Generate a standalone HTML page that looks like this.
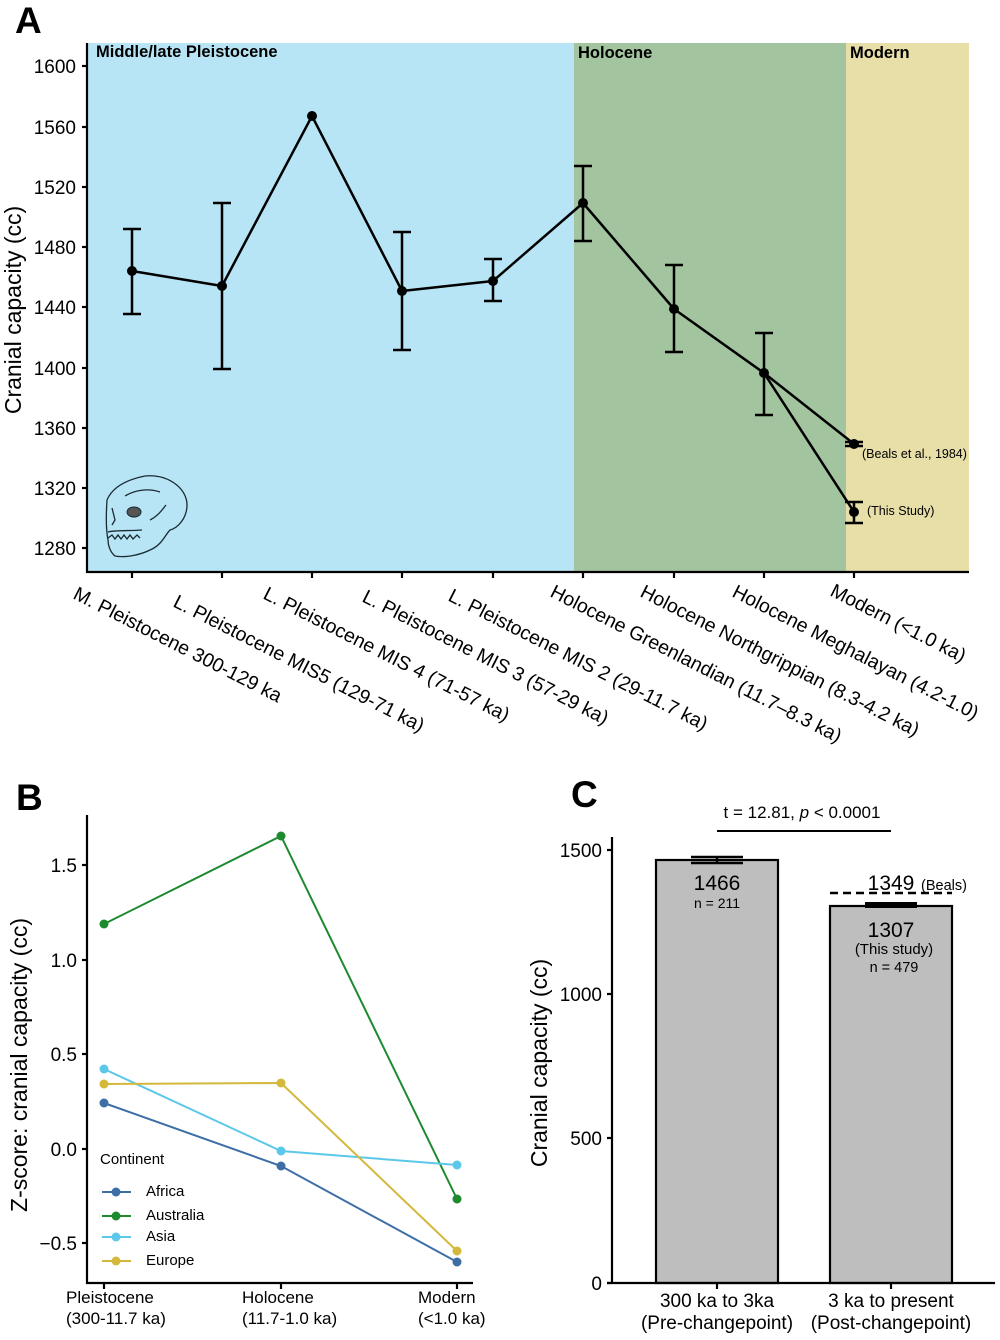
<!DOCTYPE html>
<html><head><meta charset="utf-8"><style>
html,body{margin:0;padding:0;background:#fff;}
svg{display:block;font-family:"Liberation Sans",Arial,sans-serif;}
</style></head><body>
<svg width="1000" height="1340" viewBox="0 0 1000 1340" xmlns="http://www.w3.org/2000/svg">
<!-- Panel A -->
<text x="15" y="33" font-size="37" font-weight="bold">A</text>
<rect x="87" y="43" width="487" height="529" fill="#b8e5f5"/>
<rect x="574" y="43" width="272" height="529" fill="#a2c49e"/>
<rect x="846" y="43" width="123" height="529" fill="#e7dea8"/>
<text x="96" y="57" font-size="16.5" font-weight="bold">Middle/late Pleistocene</text>
<text x="578" y="58" font-size="16.5" font-weight="bold">Holocene</text>
<text x="850" y="58" font-size="16.5" font-weight="bold">Modern</text>
<!-- skull -->
<g fill="none" stroke="#1a2a33" stroke-width="1.3">
<path d="M107 500 C112 488,125 480,145 476 C168 474,187 488,187 505 C187 518,178 528,170 530 C165 535,162 545,150 550 C140 555,125 558,115 556 C110 552,108 545,108 540 C106 530,106 515,107 500 Z"/>
<path d="M108 538 L112 535 L115 539 L118 535 L121 539 L124 535 L127 539 L130 535 L133 539 L137 535 L140 538"/>
<path d="M108 532 C115 530,130 531,142 530"/>
<path d="M150 520 C158 516,162 510,166 505"/>
<path d="M125 496 C135 490,148 488,160 492"/>
<path d="M112 508 L115 520 L112 525"/>
</g>
<ellipse cx="134" cy="512" rx="7" ry="5" fill="#555" stroke="#1a2a33" stroke-width="1"/>
<!-- axes A -->
<g stroke="#000" stroke-width="2.2" fill="none">
<line x1="87" y1="43" x2="87" y2="573"/>
<line x1="86" y1="572" x2="969" y2="572"/>
<line x1="82" y1="66" x2="87" y2="66"/>
<line x1="82" y1="127" x2="87" y2="127"/>
<line x1="82" y1="187" x2="87" y2="187"/>
<line x1="82" y1="247" x2="87" y2="247"/>
<line x1="82" y1="307" x2="87" y2="307"/>
<line x1="82" y1="368" x2="87" y2="368"/>
<line x1="82" y1="428" x2="87" y2="428"/>
<line x1="82" y1="488" x2="87" y2="488"/>
<line x1="82" y1="548" x2="87" y2="548"/>
<line x1="132" y1="572" x2="132" y2="578"/>
<line x1="222" y1="572" x2="222" y2="578"/>
<line x1="312" y1="572" x2="312" y2="578"/>
<line x1="402" y1="572" x2="402" y2="578"/>
<line x1="493" y1="572" x2="493" y2="578"/>
<line x1="583" y1="572" x2="583" y2="578"/>
<line x1="674" y1="572" x2="674" y2="578"/>
<line x1="764" y1="572" x2="764" y2="578"/>
<line x1="854" y1="572" x2="854" y2="578"/>
</g>
<g font-size="19" text-anchor="end" fill="#000">
<text x="76" y="73">1600</text>
<text x="76" y="134">1560</text>
<text x="76" y="194">1520</text>
<text x="76" y="254">1480</text>
<text x="76" y="314">1440</text>
<text x="76" y="375">1400</text>
<text x="76" y="435">1360</text>
<text x="76" y="495">1320</text>
<text x="76" y="555">1280</text>
</g>
<text transform="translate(21,310) rotate(-90)" font-size="23" text-anchor="middle">Cranial capacity (cc)</text>
<!-- error bars -->
<g stroke="#000" stroke-width="2.5" fill="none">
<path d="M132 229V314M123 229H141M123 314H141"/>
<path d="M222 203V369M213 203H231M213 369H231"/>
<path d="M402 232V350M393 232H411M393 350H411"/>
<path d="M493 259V301M484 259H502M484 301H502"/>
<path d="M583 166V241M574 166H592M574 241H592"/>
<path d="M674 265V352M665 265H683M665 352H683"/>
<path d="M764 333V415M755 333H773M755 415H773"/>
<path d="M845 442H863M845 446H863"/>
<path d="M854 502V523M845 502H863M845 523H863"/>
</g>
<polyline points="132,271 222,286 312,116 402,291 493,281 583,203 674,309 764,373 854,444" fill="none" stroke="#000" stroke-width="2.5" stroke-linejoin="round"/>
<line x1="764" y1="373" x2="854" y2="512" stroke="#000" stroke-width="2.5"/>
<g fill="#000">
<circle cx="132" cy="271" r="5"/><circle cx="222" cy="286" r="5"/><circle cx="312" cy="116" r="5"/>
<circle cx="402" cy="291" r="5"/><circle cx="493" cy="281" r="5"/><circle cx="583" cy="203" r="5"/>
<circle cx="674" cy="309" r="5"/><circle cx="764" cy="373" r="5"/><circle cx="854" cy="444" r="5"/>
<circle cx="854" cy="512" r="5"/>
</g>
<text x="862" y="458" font-size="12.5">(Beals et al., 1984)</text>
<text x="867" y="515" font-size="12.5">(This Study)</text>
<!-- rotated x labels -->
<g font-size="19.5">
<text transform="translate(72,598) rotate(27)">M. Pleistocene 300-129 ka</text>
<text transform="translate(172,606) rotate(27)">L. Pleistocene MIS5 (129-71 ka)</text>
<text transform="translate(262,598) rotate(27)">L. Pleistocene MIS 4 (71-57 ka)</text>
<text transform="translate(361,601) rotate(27)">L. Pleistocene MIS 3 (57-29 ka)</text>
<text transform="translate(447,600) rotate(27)">L. Pleistocene MIS 2 (29-11.7 ka)</text>
<text transform="translate(549,596) rotate(27)">Holocene Greenlandian (11.7–8.3 ka)</text>
<text transform="translate(639,596) rotate(27)">Holocene Northgrippian (8.3-4.2 ka)</text>
<text transform="translate(731,596) rotate(27)">Holocene Meghalayan (4.2-1.0)</text>
<text transform="translate(829,595) rotate(27)">Modern (&lt;1.0 ka)</text>
</g>

<!-- Panel B -->
<text x="16" y="810" font-size="37" font-weight="bold">B</text>
<g stroke="#000" stroke-width="2.2" fill="none">
<line x1="87" y1="815" x2="87" y2="1284"/>
<line x1="86" y1="1283" x2="473" y2="1283"/>
<line x1="82" y1="865" x2="87" y2="865"/>
<line x1="82" y1="960" x2="87" y2="960"/>
<line x1="82" y1="1054" x2="87" y2="1054"/>
<line x1="82" y1="1149" x2="87" y2="1149"/>
<line x1="82" y1="1243" x2="87" y2="1243"/>
<line x1="104" y1="1283" x2="104" y2="1289"/>
<line x1="281" y1="1283" x2="281" y2="1289"/>
<line x1="457" y1="1283" x2="457" y2="1289"/>
</g>
<g font-size="19" text-anchor="end">
<text x="77" y="872">1.5</text>
<text x="77" y="967">1.0</text>
<text x="77" y="1061">0.5</text>
<text x="77" y="1156">0.0</text>
<text x="77" y="1250">−0.5</text>
</g>
<text transform="translate(27,1065) rotate(-90)" font-size="23" text-anchor="middle">Z-score: cranial capacity (cc)</text>
<g stroke-width="2" fill="none">
<polyline points="104,924 281,836 457,1199" stroke="#1e8a2e"/>
<polyline points="104,1103 281,1166 457,1262" stroke="#3d6ea6"/>
<polyline points="104,1069 281,1151 457,1165" stroke="#5bc8ea"/>
<polyline points="104,1084 281,1083 457,1251" stroke="#d4b83c"/>
</g>
<g>
<circle cx="104" cy="924" r="4.5" fill="#1e8a2e"/><circle cx="281" cy="836" r="4.5" fill="#1e8a2e"/><circle cx="457" cy="1199" r="4.5" fill="#1e8a2e"/>
<circle cx="104" cy="1103" r="4.5" fill="#3d6ea6"/><circle cx="281" cy="1166" r="4.5" fill="#3d6ea6"/><circle cx="457" cy="1262" r="4.5" fill="#3d6ea6"/>
<circle cx="104" cy="1069" r="4.5" fill="#5bc8ea"/><circle cx="281" cy="1151" r="4.5" fill="#5bc8ea"/><circle cx="457" cy="1165" r="4.5" fill="#5bc8ea"/>
<circle cx="104" cy="1084" r="4.5" fill="#d4b83c"/><circle cx="281" cy="1083" r="4.5" fill="#d4b83c"/><circle cx="457" cy="1251" r="4.5" fill="#d4b83c"/>
</g>
<!-- legend -->
<text x="100" y="1164" font-size="15">Continent</text>
<g stroke-width="2">
<line x1="102" y1="1192" x2="131" y2="1192" stroke="#3d6ea6"/>
<line x1="102" y1="1216" x2="131" y2="1216" stroke="#1e8a2e"/>
<line x1="102" y1="1237" x2="131" y2="1237" stroke="#5bc8ea"/>
<line x1="102" y1="1261" x2="131" y2="1261" stroke="#d4b83c"/>
</g>
<circle cx="116" cy="1192" r="4.5" fill="#3d6ea6"/>
<circle cx="116" cy="1216" r="4.5" fill="#1e8a2e"/>
<circle cx="116" cy="1237" r="4.5" fill="#5bc8ea"/>
<circle cx="116" cy="1261" r="4.5" fill="#d4b83c"/>
<g font-size="15">
<text x="146" y="1196">Africa</text>
<text x="146" y="1220">Australia</text>
<text x="146" y="1241">Asia</text>
<text x="146" y="1265">Europe</text>
</g>
<g font-size="17">
<text x="66" y="1303">Pleistocene</text>
<text x="66" y="1324">(300-11.7 ka)</text>
<text x="242" y="1303">Holocene</text>
<text x="242" y="1324">(11.7-1.0 ka)</text>
<text x="418" y="1303">Modern</text>
<text x="418" y="1324">(&lt;1.0 ka)</text>
</g>

<!-- Panel C -->
<text x="571" y="807" font-size="37" font-weight="bold">C</text>
<text x="802" y="818" font-size="17" text-anchor="middle">t = 12.81, <tspan font-style="italic">p</tspan> &lt; 0.0001</text>
<line x1="717" y1="831" x2="891" y2="831" stroke="#000" stroke-width="2"/>
<rect x="656" y="860" width="122" height="423" fill="#bebebe" stroke="#000" stroke-width="2.2"/>
<rect x="830" y="906" width="122" height="377" fill="#bebebe" stroke="#000" stroke-width="2.2"/>
<g stroke="#000" stroke-width="2.2" fill="none">
<line x1="612" y1="837" x2="612" y2="1284"/>
<line x1="607" y1="1283" x2="995" y2="1283"/>
<line x1="607" y1="850" x2="612" y2="850"/>
<line x1="607" y1="994" x2="612" y2="994"/>
<line x1="607" y1="1138" x2="612" y2="1138"/>
<line x1="607" y1="1283" x2="612" y2="1283"/>
<line x1="717" y1="1283" x2="717" y2="1289"/>
<line x1="891" y1="1283" x2="891" y2="1289"/>
</g>
<g stroke="#000" stroke-width="2.5">
<line x1="691" y1="857" x2="743" y2="857"/>
<line x1="691" y1="863" x2="743" y2="863"/>
<line x1="717" y1="857" x2="717" y2="863"/>
</g>
<rect x="865" y="902" width="52" height="6" fill="#000"/>
<line x1="830" y1="893" x2="952" y2="893" stroke="#000" stroke-width="2.6" stroke-dasharray="8 5"/>
<g font-size="19" text-anchor="end">
<text x="602" y="857">1500</text>
<text x="602" y="1001">1000</text>
<text x="602" y="1145">500</text>
<text x="602" y="1290">0</text>
</g>
<text transform="translate(547,1063) rotate(-90)" font-size="23" text-anchor="middle">Cranial capacity (cc)</text>
<g text-anchor="middle">
<text x="717" y="890" font-size="21">1466</text>
<text x="717" y="908" font-size="14">n = 211</text>
<text x="891" y="890" font-size="21">1349</text>
<text x="891" y="937" font-size="21">1307</text>
<text x="894" y="954" font-size="15">(This study)</text>
<text x="894" y="972" font-size="14.5">n = 479</text>
<text x="717" y="1307" font-size="19">300 ka to 3ka</text>
<text x="717" y="1329" font-size="19">(Pre-changepoint)</text>
<text x="891" y="1307" font-size="19">3 ka to present</text>
<text x="891" y="1329" font-size="19">(Post-changepoint)</text>
</g>
<text x="921" y="890" font-size="14.5">(Beals)</text>
</svg>
</body></html>
